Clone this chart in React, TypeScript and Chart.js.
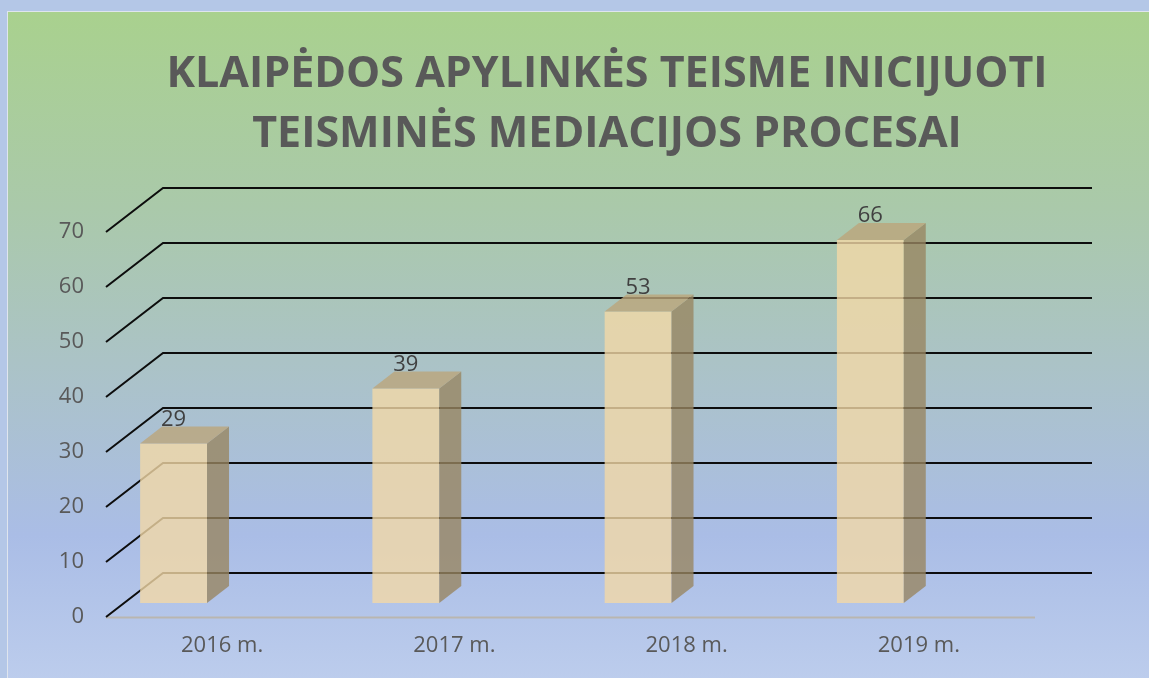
import React, { useEffect, useRef } from "react";
import { Chart, registerables } from "chart.js";

Chart.register(...registerables);

const categories: string[] = ["2016 m.", "2017 m.", "2018 m.", "2019 m."];
const values: number[] = [29, 39, 53, 66];
const titleLines: string[] = ["KLAIPĖDOS APYLINKĖS TEISME INICIJUOTI", "TEISMINĖS MEDIACIJOS PROCESAI"];
const yMin = 0;
const yMax = 70;
const yStep = 10;

const FONT = "'Open Sans', 'Liberation Sans', sans-serif";

// 3D style constants
const WALL_DX = 57;
const WALL_DY = -44;
const BAR_SHIFT_Y = 14;
const BAR_LEFT = -0.353; // fraction of category width from centre
const BAR_W = 0.288;
const BAR_DX = 22;
const BAR_DY = -17;

const threeD = {
  id: "threeD",
  beforeDatasetsDraw(chart: any) {
    const { ctx } = chart;
    const x = chart.scales.x;
    const y = chart.scales.y;
    const left = x.left;
    const right = x.right;
    ctx.save();
    // floor front line
    ctx.strokeStyle = "rgba(185,180,170,0.9)";
    ctx.lineWidth = 2;
    ctx.beginPath();
    ctx.moveTo(left, y.getPixelForValue(0) + 0.5);
    ctx.lineTo(right, y.getPixelForValue(0) + 0.5);
    ctx.stroke();
    // grid lines
    ctx.strokeStyle = "#0d0d0d";
    ctx.lineWidth = 2;
    for (let v = yMin; v <= yMax; v += yStep) {
      const py = y.getPixelForValue(v);
      ctx.beginPath();
      ctx.moveTo(left, py);
      ctx.lineTo(left + WALL_DX, py + WALL_DY);
      ctx.lineTo(right + WALL_DX, py + WALL_DY);
      ctx.stroke();
    }
    // bars
    const catW = (right - left) / categories.length;
    const meta = chart.getDatasetMeta(0);
    meta.data.forEach((el: any, i: number) => {
      const cx = el.x;
      const x0 = cx + BAR_LEFT * catW;
      const x1 = x0 + BAR_W * catW;
      const top = y.getPixelForValue(values[i]) - BAR_SHIFT_Y;
      const bot = y.getPixelForValue(0) - BAR_SHIFT_Y;
      // front
      ctx.fillStyle = "rgba(243,216,166,0.8)";
      ctx.fillRect(x0, top, x1 - x0, bot - top);
      // side
      ctx.fillStyle = "rgba(152,134,98,0.8)";
      ctx.beginPath();
      ctx.moveTo(x1, top);
      ctx.lineTo(x1 + BAR_DX, top + BAR_DY);
      ctx.lineTo(x1 + BAR_DX, bot + BAR_DY);
      ctx.lineTo(x1, bot);
      ctx.closePath();
      ctx.fill();
      // top
      ctx.fillStyle = "rgba(188,165,122,0.8)";
      ctx.beginPath();
      ctx.moveTo(x0, top);
      ctx.lineTo(x0 + BAR_DX, top + BAR_DY);
      ctx.lineTo(x1 + BAR_DX, top + BAR_DY);
      ctx.lineTo(x1, top);
      ctx.closePath();
      ctx.fill();
      // label
      ctx.fillStyle = "#404040";
      ctx.font = `22px ${FONT}`;
      ctx.textAlign = "center";
      ctx.textBaseline = "alphabetic";
      ctx.fillText(String(values[i]), (x0 + x1) / 2, top + BAR_DY - 1);
    });
    ctx.restore();
  },
};

export default function App() {
  const ref = useRef<HTMLCanvasElement | null>(null);
  useEffect(() => {
    if (!ref.current) return;
    const chart = new Chart(ref.current, {
      type: "bar",
      data: {
        labels: categories,
        datasets: [
          {
            label: "Procesai",
            data: values,
            backgroundColor: "rgba(0,0,0,0)",
            borderWidth: 0,
          },
        ],
      },
      options: {
        responsive: false,
        animation: false,
        layout: { padding: 0 },
        plugins: {
          legend: { display: false },
          tooltip: { enabled: false },
          title: {
            display: true,
            text: titleLines,
            color: "#595959",
            font: { family: FONT, size: 43, weight: "bold", lineHeight: 60 / 43 },
            padding: { top: 33, bottom: 67 },
          },
        },
        scales: {
          x: {
            type: "category",
            grid: { display: false, drawTicks: false },
            border: { display: false },
            ticks: { color: "#595959", font: { family: FONT, size: 22 }, padding: 16 },
            afterFit: (s: any) => {
              s.height = 61;
            },
          },
          y: {
            type: "linear",
            position: "left",
            min: yMin,
            max: yMax,
            grid: { display: false, drawTicks: false },
            border: { display: false },
            ticks: { stepSize: yStep, color: "#595959", font: { family: FONT, size: 22 }, padding: 22 },
            afterFit: (s: any) => {
              s.width = 98;
            },
          },
          y2: {
            type: "linear",
            position: "right",
            grid: { display: false, drawTicks: false },
            border: { display: false },
            ticks: { display: false },
            afterFit: (s: any) => {
              s.width = 171;
            },
          },
        },
      },
      plugins: [threeD],
    });
    return () => chart.destroy();
  }, []);

  return (
    <div
      style={{
        position: "fixed",
        left: 0,
        top: 0,
        width: 1149,
        height: 678,
        overflow: "hidden",
        background: "#b4c7e7",
      }}
    >
      <div
        style={{
          position: "absolute",
          left: 7,
          top: 11,
          width: 1220,
          height: 700,
          boxSizing: "border-box",
          border: "1px solid #dfe5ee",
          overflow: "hidden",
          background:
            "linear-gradient(to bottom, #a9d18e 0%, #aac9aa 28%, #abc3c6 50%, #aabde6 75%, #c0d0ee 100%)",
        }}
      >
        <canvas ref={ref} width={1198} height={666} style={{ position: "absolute", left: 0, top: 0, width: 1198, height: 666 }} />
      </div>
    </div>
  );
}
